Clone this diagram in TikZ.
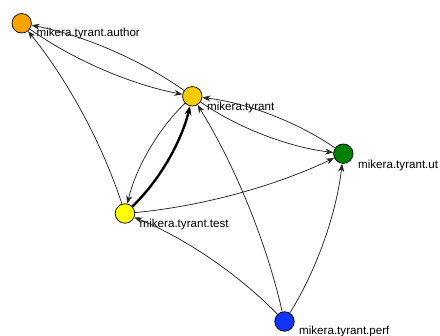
\documentclass[tikz,border=0pt]{standalone}
\usepackage{fontspec}
\setmainfont{Liberation Sans}
\usetikzlibrary{arrows.meta,calc}

\definecolor{nodeorange}{RGB}{247,163,0}
\definecolor{nodegold}{RGB}{250,204,0}
\definecolor{nodeyellow}{RGB}{255,255,0}
\definecolor{nodegreen}{RGB}{0,128,0}
\definecolor{nodeblue}{RGB}{18,52,250}

\tikzset{
  pkg/.style={circle, draw=black, line width=0.7pt, minimum size=19.5pt, inner sep=0pt},
  pkglabel/.style={anchor=base west, inner sep=0pt, font=\fontsize{11.6}{13}\selectfont},
  edge/.style={draw=black!85, line width=0.75pt,
    -{Stealth[length=8pt,width=6pt,inset=2.5pt]}},
  heavy/.style={line width=2.4pt, draw=black,
    -{Stealth[length=9pt,width=7pt,inset=3pt]}},
}

% dependency edge: quadratic curve bowing to the right of its direction
\newcommand{\depedge}[3][]{%
  \path coordinate (ctl) at ($(#2.center)!.5!(#3.center)!20pt!-90:(#3.center)$);
  \draw[edge,#1] (#2) .. controls ($(#2.center)!2/3!(ctl)$) and ($(#3.center)!2/3!(ctl)$) .. (#3);
}

\begin{document}
\begin{tikzpicture}[x=1pt,y=-1pt]
  \useasboundingbox (0,0) rectangle (440,336);

  \node[pkg, fill=nodeorange] (author) at (21.7,23.3) {};
  \node[pkg, fill=nodegold]   (tyrant) at (192.3,96.3) {};
  \node[pkg, fill=nodegreen]  (ut)     at (343.3,153.7) {};
  \node[pkg, fill=nodeyellow] (test)   at (125,213.5) {};
  \node[pkg, fill=nodeblue]   (perf)   at (284.5,321.5) {};

  \node[pkglabel] (lauthor) at (36.5,37) {mikera.tyrant.author};
  \node[pkglabel] (ltyrant) at (207,110.5) {mikera.tyrant};
  \node[pkglabel] (lut)     at (358,168.3) {mikera.tyrant.ut};
  \node[pkglabel] (ltest)   at (139.5,227.5) {mikera.tyrant.test};
  \node[pkglabel] (lperf)   at (299,335) {mikera.tyrant.perf};

  \depedge{tyrant}{author}
  \depedge{author}{tyrant}
  \depedge{test}{author}
  \depedge[heavy]{test}{tyrant}
  \depedge{tyrant}{test}
  \depedge{tyrant}{ut}
  \depedge{ut}{tyrant}
  \depedge{test}{ut}
  \depedge{perf}{tyrant}
  \depedge{perf}{ut}
  \depedge{perf}{test}
\end{tikzpicture}
\end{document}
